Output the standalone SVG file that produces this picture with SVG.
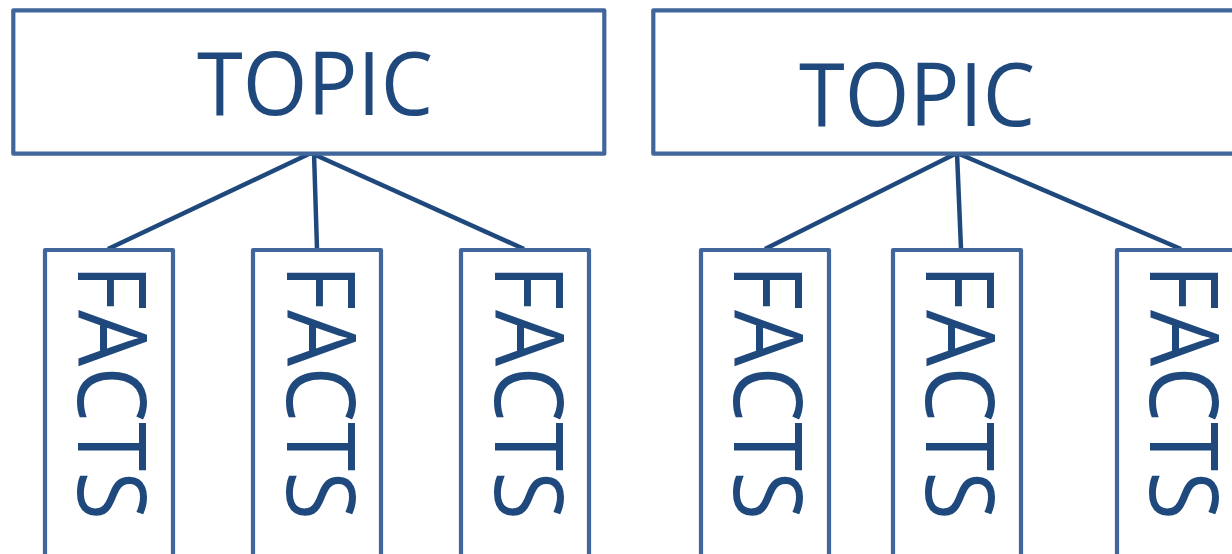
<svg xmlns="http://www.w3.org/2000/svg" width="1232" height="554" viewBox="0 0 1232 554">
<style>
.box{fill:#ffffff;stroke:#41669B;stroke-width:4.2;stroke-linejoin:round}
.con{stroke:#1F497D;stroke-width:4.5;fill:none;stroke-linecap:butt}
.t{font-family:"Open Sans","Noto Sans","Liberation Sans",sans-serif;fill:#1F497D}
.topic{font-size:87px}
.facts{font-size:95px}
</style>
<rect width="1232" height="554" fill="#ffffff"/>
<g id="connectors">
<line class="con" x1="311" y1="153" x2="108" y2="249"/>
<line class="con" x1="314" y1="153" x2="317" y2="249"/>
<line class="con" x1="311" y1="153" x2="524" y2="249"/>
<line class="con" x1="957" y1="153" x2="765" y2="249"/>
<line class="con" x1="957" y1="153" x2="961" y2="249"/>
<line class="con" x1="957" y1="153" x2="1181" y2="249"/>
</g>
<g id="topic1">
<rect class="box" x="13.3" y="10.3" width="591" height="143.4"/>
<text class="t topic" x="197" y="115" textLength="236" lengthAdjust="spacingAndGlyphs">TOPIC</text>
</g>
<g id="topic2">
<rect class="box" x="653.3" y="10.3" width="600" height="143.4"/>
<text class="t topic" x="799" y="126" textLength="236" lengthAdjust="spacingAndGlyphs">TOPIC</text>
</g>
<g id="facts1">
<rect class="box" x="45" y="250" width="128" height="320"/>
<text class="t facts" transform="translate(78,264) rotate(90)" textLength="256" lengthAdjust="spacingAndGlyphs">FACTS</text>
</g>
<g id="facts2">
<rect class="box" x="253" y="250" width="128" height="320"/>
<text class="t facts" transform="translate(287,264) rotate(90)" textLength="256" lengthAdjust="spacingAndGlyphs">FACTS</text>
</g>
<g id="facts3">
<rect class="box" x="461" y="250" width="128" height="320"/>
<text class="t facts" transform="translate(495,264) rotate(90)" textLength="256" lengthAdjust="spacingAndGlyphs">FACTS</text>
</g>
<g id="facts4">
<rect class="box" x="701" y="250" width="128" height="320"/>
<text class="t facts" transform="translate(734,264) rotate(90)" textLength="256" lengthAdjust="spacingAndGlyphs">FACTS</text>
</g>
<g id="facts5">
<rect class="box" x="893" y="250" width="128" height="320"/>
<text class="t facts" transform="translate(926,264) rotate(90)" textLength="256" lengthAdjust="spacingAndGlyphs">FACTS</text>
</g>
<g id="facts6">
<rect class="box" x="1117" y="250" width="128" height="320"/>
<text class="t facts" transform="translate(1150,264) rotate(90)" textLength="256" lengthAdjust="spacingAndGlyphs">FACTS</text>
</g>
</svg>
